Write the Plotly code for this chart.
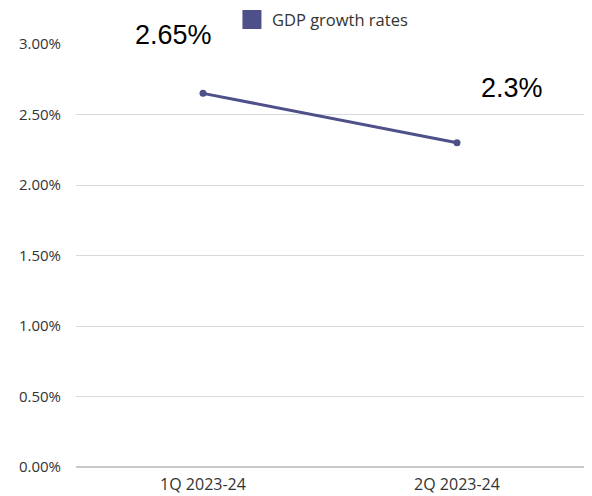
import plotly.graph_objects as go

quarters = ["1Q 2023-24", "2Q 2023-24"]
gdp_growth = [2.65, 2.3]
value_labels = ["2.65%", "2.3%"]
y_ticks = [0, 0.5, 1.0, 1.5, 2.0, 2.5, 3.0]
y_tick_text = ["0.00%", "0.50%", "1.00%", "1.50%", "2.00%", "2.50%", "3.00%"]

line_color = "#4e5089"

fig = go.Figure()

fig.add_trace(go.Scatter(
    x=quarters, y=gdp_growth, mode="lines+markers",
    line=dict(color=line_color, width=3),
    marker=dict(color=line_color, size=7),
    showlegend=False, hoverinfo="x+y",
))

# legend entry drawn as a filled square
fig.add_trace(go.Scatter(
    x=[None], y=[None], mode="markers", name="GDP growth rates",
    marker=dict(color=line_color, symbol="square", size=16,
                line=dict(color=line_color, width=3)),
))

shifts = [(-30, 58), (55, 55)]
for q, v, t, (dx, dy) in zip(quarters, gdp_growth, value_labels, shifts):
    fig.add_annotation(
        x=q, y=v, text=t, showarrow=False, xshift=dx, yshift=dy,
        font=dict(family="Liberation Sans, Arial", size=27, color="#000"),
    )

fig.update_layout(
    width=592, height=496,
    margin=dict(l=76, r=8, t=44, b=29, autoexpand=False),
    paper_bgcolor="white", plot_bgcolor="white",
    font=dict(family="Open Sans", size=15, color="#333"),
    legend=dict(orientation="h", x=0.307, xanchor="left", y=1.057,
                yanchor="middle", font=dict(size=16.5, color="#333"),
                itemsizing="trace"),
)
fig.update_xaxes(range=[-0.5, 1.5], showgrid=False, showline=False,
                 zeroline=False, ticklabelstandoff=6,
                 tickfont=dict(size=16, color="#333"))
fig.update_yaxes(range=[0, 3.0], tickvals=y_ticks, ticktext=y_tick_text,
                 showgrid=True, gridcolor="#d9d9d9", gridwidth=1,
                 zeroline=True, zerolinecolor="#c8c8c8", zerolinewidth=1.5,
                 showline=False, ticklabelstandoff=14,
                 tickfont=dict(size=15, color="#333"))

fig.write_html("out.html")
